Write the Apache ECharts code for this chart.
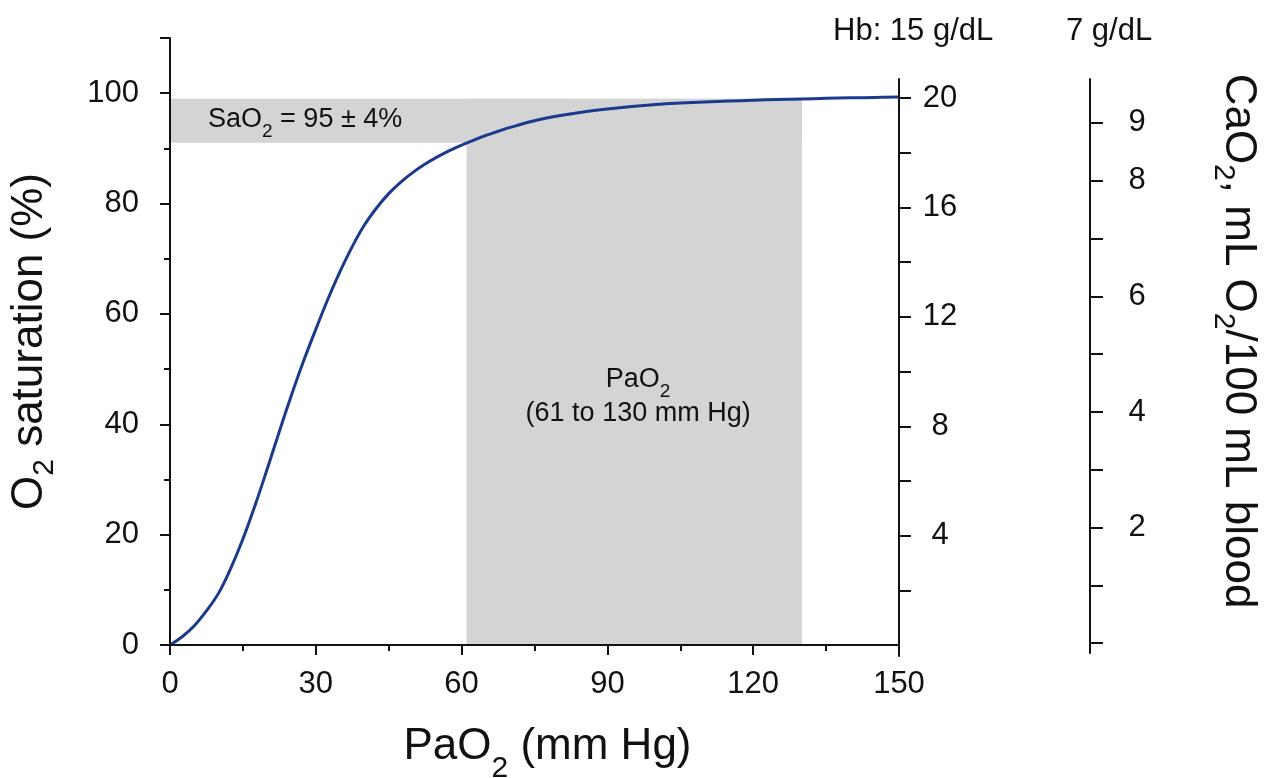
<!DOCTYPE html>
<html><head><meta charset="utf-8">
<script src="https://cdn.jsdelivr.net/npm/echarts@6/dist/echarts.min.js"></script>
<style>html,body{margin:0;padding:0;background:#fff}#c{width:1276px;height:778px}</style>
</head><body><div id="c"></div>
<script>
// PaO2 (mm Hg) and O2 saturation (%)
const pao2 = [0, 2.5, 5, 7.5, 10, 12.5, 15, 17.5, 20, 22.5, 25, 27.5, 30, 32.5, 35, 37.5, 40, 42.5, 45, 47.5, 50, 52.5, 55, 57.5, 60, 62.5, 65, 67.5, 70, 75, 80, 85, 90, 95, 100, 105, 110, 115, 120, 125, 130, 135, 140, 145, 150];
const sao2 = [0, 1.5, 3.5, 6.2, 9.4, 13.9, 19.2, 25.3, 31.9, 38.7, 45.3, 51.5, 57.2, 62.7, 67.7, 72.2, 76.1, 79.2, 81.8, 83.9, 85.65, 87.15, 88.45, 89.6, 90.6, 91.5, 92.35, 93.1, 93.8, 95.0, 95.9, 96.6, 97.15, 97.6, 97.95, 98.2, 98.4, 98.57, 98.72, 98.85, 98.96, 99.06, 99.15, 99.23, 99.3];

// tick values / labels
const xTickLabels = [0, 30, 60, 90, 120, 150];
const satLabels = [0, 20, 40, 60, 80, 100];
const satMajorTicks = [0, 20, 40, 60, 80, 100, 110];
const satMinorTicks = [10, 30, 50, 70, 90];
const hb15Ticks = [2, 4, 6, 8, 10, 12, 14, 16, 18, 20];
const hb15Labels = [4, 8, 12, 16, 20];
const hb7Ticks = [0, 1, 2, 3, 4, 5, 6, 7, 8, 9];
const hb7Labels = [2, 4, 6, 8, 9];

// shaded normal ranges: [[x0, y0], [x1, y1]]
const saBand = [[0, 91], [130, 99]];   // SaO2 = 95 ± 4 %
const paBand = [[61, 0], [130, 99]];   // PaO2 61 to 130 mm Hg

const FONT = "'Liberation Sans', Arial, Helvetica, sans-serif";
const INK = '#111';

function rich(size, subSize, lh, pad) {
  return {
    m: { fontSize: size, fontFamily: FONT, color: INK, lineHeight: lh, verticalAlign: 'top', align: 'center' },
    s: { fontSize: subSize, fontFamily: FONT, color: INK, lineHeight: subSize, verticalAlign: 'top', padding: [pad, 0, 0, 0], align: 'center' }
  };
}
const xTitleRich = rich(44, 30, 50, 29);
const yTitleRich = rich(44, 30, 50, 22);
const noteRich = rich(27, 19, 34, 16);

const axisLine = { show: true, onZero: false, lineStyle: { color: INK, width: 2 } };
const tickStyle = { color: INK, width: 2 };
const labelBase = { color: INK, fontSize: 31, fontFamily: FONT };

const chart = echarts.init(document.getElementById('c'), null, { renderer: 'canvas' });
chart.setOption({
  animation: false,
  backgroundColor: '#fff',
  grid: [
    { left: 170, top: 38, width: 729, height: 607, outerBoundsMode: 'none', containLabel: false },
    { left: 889, top: 79, width: 10, height: 577, outerBoundsMode: 'none', containLabel: false },
    { left: 1080, top: 79, width: 10, height: 574, outerBoundsMode: 'none', containLabel: false }
  ],
  xAxis: [
    {
      gridIndex: 0, type: 'value', min: 0, max: 150, interval: 30, z: 5,
      axisLine: axisLine,
      axisTick: { show: true, inside: false, length: 10, lineStyle: tickStyle },
      minorTick: { show: true, splitNumber: 2, length: 6, lineStyle: tickStyle },
      axisLabel: Object.assign({ customValues: xTickLabels, margin: 24 }, labelBase),
      splitLine: { show: false }, minorSplitLine: { show: false },
      name: '{m|PaO}{s|2}{m| (mm Hg)}',
      nameLocation: 'middle', nameGap: 80, nameMoveOverlap: false,
      nameTextStyle: { rich: xTitleRich, padding: [0, 0, 0, 26] }
    },
    { gridIndex: 1, type: 'value', show: false },
    { gridIndex: 2, type: 'value', show: false }
  ],
  yAxis: [
    {
      gridIndex: 0, type: 'value', position: 'left', min: 0, max: 110, z: 5,
      axisLine: axisLine,
      axisTick: { show: true, inside: false, length: 10, customValues: satMajorTicks, lineStyle: tickStyle },
      axisLabel: Object.assign({ customValues: satLabels, margin: 31 }, labelBase),
      splitLine: { show: false },
      name: '{m|O}{s|2}{m| saturation (%)}',
      nameLocation: 'middle', nameRotate: 90, nameGap: 112, nameMoveOverlap: false,
      nameTextStyle: { rich: yTitleRich }
    },
    {
      gridIndex: 0, type: 'value', position: 'left', min: 0, max: 110, z: 5,
      axisLine: { show: false },
      axisTick: { show: true, inside: false, length: 6, customValues: satMinorTicks, lineStyle: tickStyle },
      axisLabel: { show: false },
      splitLine: { show: false }
    },
    {
      gridIndex: 1, type: 'value', position: 'right', min: -0.4, max: 20.7, z: 5,
      axisLine: axisLine,
      axisTick: { show: true, inside: false, length: 12, customValues: hb15Ticks, lineStyle: tickStyle },
      axisLabel: Object.assign({ customValues: hb15Labels, margin: 41, align: 'center' }, labelBase),
      splitLine: { show: false }
    },
    {
      gridIndex: 2, type: 'value', position: 'right', min: -0.17, max: 9.76, z: 5,
      axisLine: axisLine,
      axisTick: { show: true, inside: false, length: 13, customValues: hb7Ticks, lineStyle: tickStyle },
      axisLabel: Object.assign({ customValues: hb7Labels, margin: 47, align: 'center' }, labelBase),
      splitLine: { show: false },
      name: '{m|CaO}{s|2}{m|, mL O}{s|2}{m|/100 mL blood}',
      nameLocation: 'middle', nameRotate: -90, nameGap: 120, nameMoveOverlap: false,
      nameTextStyle: { rich: yTitleRich, padding: [0, 50, 0, 0] }
    }
  ],
  graphic: [
    { type: 'text', left: 833, top: 16, style: { text: 'Hb: 15 g/dL', font: '31px ' + FONT, fill: INK } },
    { type: 'text', left: 1066, top: 16, style: { text: '7 g/dL', font: '31px ' + FONT, fill: INK } }
  ],
  series: [
    {
      type: 'line', xAxisIndex: 0, yAxisIndex: 0, z: 3,
      data: pao2.map((x, i) => [x, sao2[i]]),
      smooth: 0.4, showSymbol: false, symbol: 'none',
      lineStyle: { color: '#1c3a8c', width: 3 },
      markArea: {
        silent: true,
        itemStyle: { color: '#d4d4d4' },
        data: [
          [
            { coord: saBand[0], label: { show: true, position: 'insideLeft', distance: 38, offset: [0, 2],
                formatter: '{m|SaO}{s|2}{m| = 95 ± 4%}', rich: noteRich } },
            { coord: saBand[1] }
          ],
          [
            { coord: paBand[0], label: { show: true, position: 'inside', offset: [4, 28],
                formatter: '{m|PaO}{s|2}\n{m|(61 to 130 mm Hg)}', rich: noteRich } },
            { coord: paBand[1] }
          ]
        ]
      }
    }
  ]
});
</script>
</body></html>
